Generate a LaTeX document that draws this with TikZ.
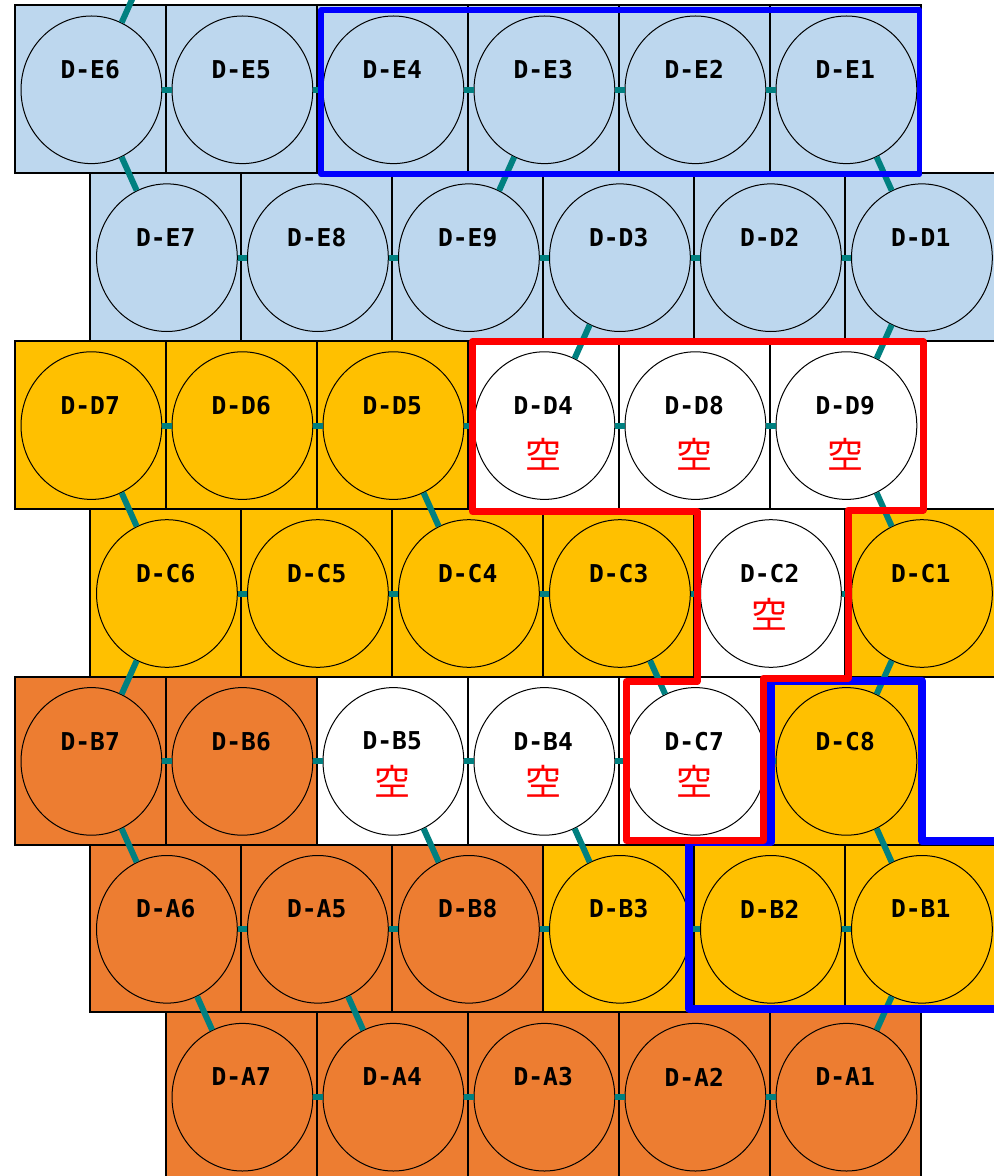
\documentclass[tikz,border=0pt]{standalone}
\usepackage{fontspec}
\usepackage{xcolor}
\usetikzlibrary{%
  shapes.geometric
}
\newfontfamily\tagfont{DejaVu Sans Mono}
\newfontfamily\jpfont{Noto Sans CJK JP}
\definecolor{paleblue}{HTML}{BDD7EE}
\definecolor{gold}{HTML}{FFC000}
\definecolor{rust}{HTML}{ED7D31}
\definecolor{linkteal}{HTML}{008080}
\tikzset{
  box/.style={draw=black,line width=1pt},
  disc/.style={ellipse,draw=black,line width=0.5pt,minimum width=70.4pt,
    minimum height=73.8pt,inner sep=0pt},
  tag/.style={inner sep=0pt,font=\tagfont\bfseries\fontsize{12.3pt}{14pt}\selectfont},
  kong/.style={inner sep=0pt,text=red,font=\jpfont\fontsize{18pt}{20pt}\selectfont},
  link/.style={draw=linkteal,line width=3pt},
  frameb/.style={draw=blue,line width=2.75pt,line join=round},
  framer/.style={draw=red,line width=3.5pt,line join=round}
}

\begin{document}
\begin{tikzpicture}[x=0.5pt,y=-0.5pt]
    \useasboundingbox (0,0) rectangle (994,1176);
    \clip (0,0) rectangle (994,1176);
    \def\slot(#1,#2)#3#4#5{
      \draw[box,fill=#5] (14.7+151*#1,5+167.9*#2) rectangle ++(151,167.9);
      \node[disc,fill=#5] (#3) at (91.4+151*#1,89.8+167.9*#2) {};
      \node[tag] (#3t) at (90.2+151*#1,69.5+167.9*#2) {#4};
    }
    \def\hole(#1,#2)#3#4#5{
      \slot(#1,#2){#3}{#4}{white}
      \node[kong] (#3k) at (90.2+151*#1,5+#5+167.9*#2) {空};
    }
    % row E
    \slot(0,0){e6}{D-E6}{paleblue}
    \slot(1,0){e5}{D-E5}{paleblue}
    \slot(2,0){e4}{D-E4}{paleblue}
    \slot(3,0){e3}{D-E3}{paleblue}
    \slot(4,0){e2}{D-E2}{paleblue}
    \slot(5,0){e1}{D-E1}{paleblue}
    \slot(0.5,1){e7}{D-E7}{paleblue}
    \slot(1.5,1){e8}{D-E8}{paleblue}
    \slot(2.5,1){e9}{D-E9}{paleblue}
    \slot(3.5,1){d3}{D-D3}{paleblue}
    \slot(4.5,1){d2}{D-D2}{paleblue}
    \slot(5.5,1){d1}{D-D1}{paleblue}
    % row D
    \slot(0,2){d7}{D-D7}{gold}
    \slot(1,2){d6}{D-D6}{gold}
    \slot(2,2){d5}{D-D5}{gold}
    \hole(3,2){d4}{D-D4}{113}
    \hole(4,2){d8}{D-D8}{113}
    \hole(5,2){d9}{D-D9}{113}
    % row C
    \slot(0.5,3){c6}{D-C6}{gold}
    \slot(1.5,3){c5}{D-C5}{gold}
    \slot(2.5,3){c4}{D-C4}{gold}
    \slot(3.5,3){c3}{D-C3}{gold}
    \hole(4.5,3){c2}{D-C2}{106}
    \slot(5.5,3){c1}{D-C1}{gold}
    % row B
    \slot(0,4){b7}{D-B7}{rust}
    \slot(1,4){b6}{D-B6}{rust}
    \hole(2,4){b5}{D-B5}{105}
    \hole(3,4){b4}{D-B4}{105}
    \hole(4,4){c7}{D-C7}{105}
    \slot(5,4){c8}{D-C8}{gold}
    \slot(0.5,5){a6}{D-A6}{rust}
    \slot(1.5,5){a5}{D-A5}{rust}
    \slot(2.5,5){b8}{D-B8}{rust}
    \slot(3.5,5){b3}{D-B3}{gold}
    \slot(4.5,5){b2}{D-B2}{gold}
    \slot(5.5,5){b1}{D-B1}{gold}
    % row A
    \slot(1,6){a7}{D-A7}{rust}
    \slot(2,6){a4}{D-A4}{rust}
    \slot(3,6){a3}{D-A3}{rust}
    \slot(4,6){a2}{D-A2}{rust}
    \slot(5,6){a1}{D-A1}{rust}
    \coordinate (up) at (166.9,-78.1);
    \foreach \a/\b in {e6/e5,e5/e4,e4/e3,e3/e2,e2/e1,
      e7/e8,e8/e9,e9/d3,d3/d2,d2/d1,
      d7/d6,d6/d5,d5/d4,d4/d8,d8/d9,
      c6/c5,c5/c4,c4/c3,c3/c2,c2/c1,
      b7/b6,b6/b5,b5/b4,b4/c7,c7/c8,
      a6/a5,a5/b8,b8/b3,b3/b2,b2/b1,
      a7/a4,a4/a3,a3/a2,a2/a1}
      \draw[link] (\a) -- (\b);
    \foreach \a/\b in {e6/up,e6/e7,e3/e9,e1/d1,d3/d4,d1/d9,
      d7/c6,d5/c4,d9/c1,c6/b7,c3/c7,c1/c8,
      b7/a6,b5/b8,b4/b3,c8/b1,a6/a7,a5/a4,b1/a1}
      \draw[link] (\a) -- (\b);
    \draw[frameb] (321,10) rectangle (919.7,174.2);
    \draw[frameb,line width=4pt] (771,680.5) -- (922,680.5) -- (922,841)
      -- (1005,841) -- (1005,1008.5) -- (689,1008.5) -- (689,842)
      -- (771,842) -- cycle;
    \draw[framer] (472.5,341.5) -- (923,341.5) -- (923,510) -- (848,510)
      -- (848,678) -- (763.5,678) -- (763.5,840.5) -- (626.5,840.5)
      -- (626.5,681.5) -- (697,681.5) -- (697,511.5) -- (472.5,511.5) -- cycle;
  \end{tikzpicture}
\end{document}
